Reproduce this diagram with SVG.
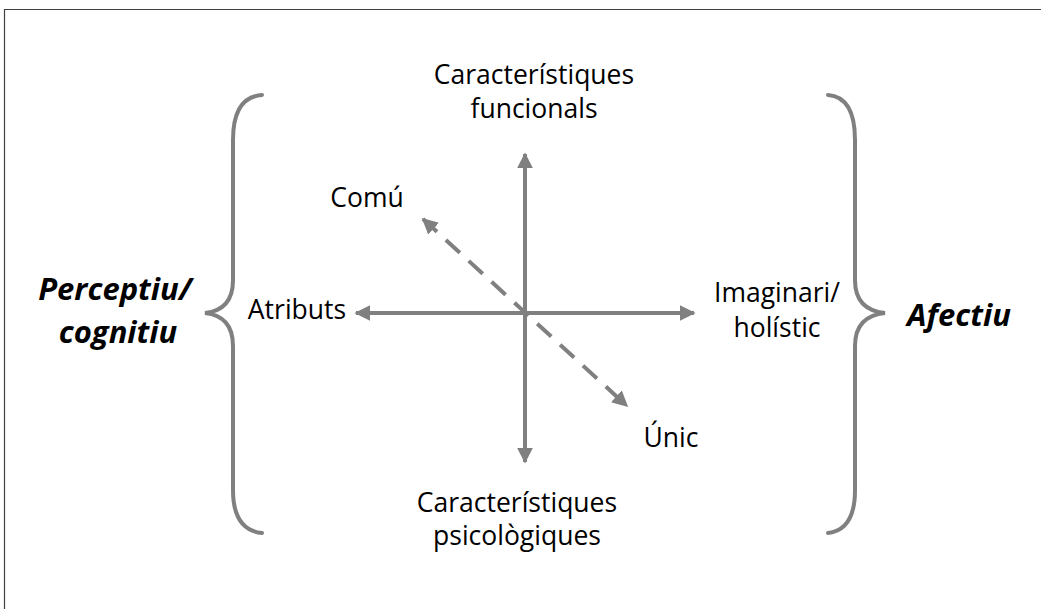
<svg xmlns="http://www.w3.org/2000/svg" width="1041" height="609" viewBox="0 0 1041 609">
<style>
.t{font-family:"Open Sans","Noto Sans",sans-serif;font-size:26.5px;fill:#000;text-anchor:middle}
.b{font-family:"Open Sans","Noto Sans",sans-serif;font-size:31px;font-weight:bold;font-style:italic;fill:#000;text-anchor:middle}
.ax{stroke:#808080;stroke-width:4;fill:none}
.br{stroke:#808080;stroke-width:4;fill:none;stroke-linecap:round}
</style>
<defs>
<marker id="ah" viewBox="0 0 10 10" refX="9" refY="5" markerWidth="4" markerHeight="4" orient="auto-start-reverse" markerUnits="strokeWidth">
<path d="M0,0 L10,5 L0,10 z" fill="#808080"/>
</marker>
</defs>
<rect width="1041" height="609" fill="#fff"/>
<path d="M4.5,609 V9.5 H1041" stroke="#404040" stroke-width="1.2" fill="none"/>
<g id="connectors">
<line class="ax" x1="525" y1="462" x2="525" y2="154" marker-end="url(#ah)" marker-start="url(#ah)"/>
<line class="ax" x1="356" y1="313" x2="694" y2="313" marker-end="url(#ah)" marker-start="url(#ah)"/>
<line class="ax" x1="423" y1="219" x2="627" y2="406" stroke-dasharray="19,12" marker-end="url(#ah)" marker-start="url(#ah)"/>
</g>
<g id="brace-left">
<path class="br" d="M262,95 Q233,97 233,140 V280 Q233,310 205,313 Q233,316 233,346 V490 Q233,530 262,533"/>
</g>
<g id="brace-right">
<path class="br" d="M828,95 Q855,97 855,140 V280 Q855,310 885,313 Q855,316 855,346 V490 Q855,530 828,533"/>
</g>
<g id="top"><text class="t" x="534" y="84">Característiques</text><text class="t" x="534" y="118">funcionals</text></g>
<g id="bottom"><text class="t" x="517" y="512">Característiques</text><text class="t" x="517" y="545">psicològiques</text></g>
<g id="right"><text class="t" x="777" y="302">Imaginari/</text><text class="t" x="777" y="337">holístic</text></g>
<g id="left"><text class="t" x="297" y="319">Atributs</text></g>
<g id="comu"><text class="t" x="367" y="207">Comú</text></g>
<g id="unic"><text class="t" x="671" y="447">Únic</text></g>
<g id="perceptiu"><text class="b" x="115" y="300">Perceptiu/</text><text class="b" x="118" y="343">cognitiu</text></g>
<g id="afectiu"><text class="b" x="959" y="326">Afectiu</text></g>
</svg>
